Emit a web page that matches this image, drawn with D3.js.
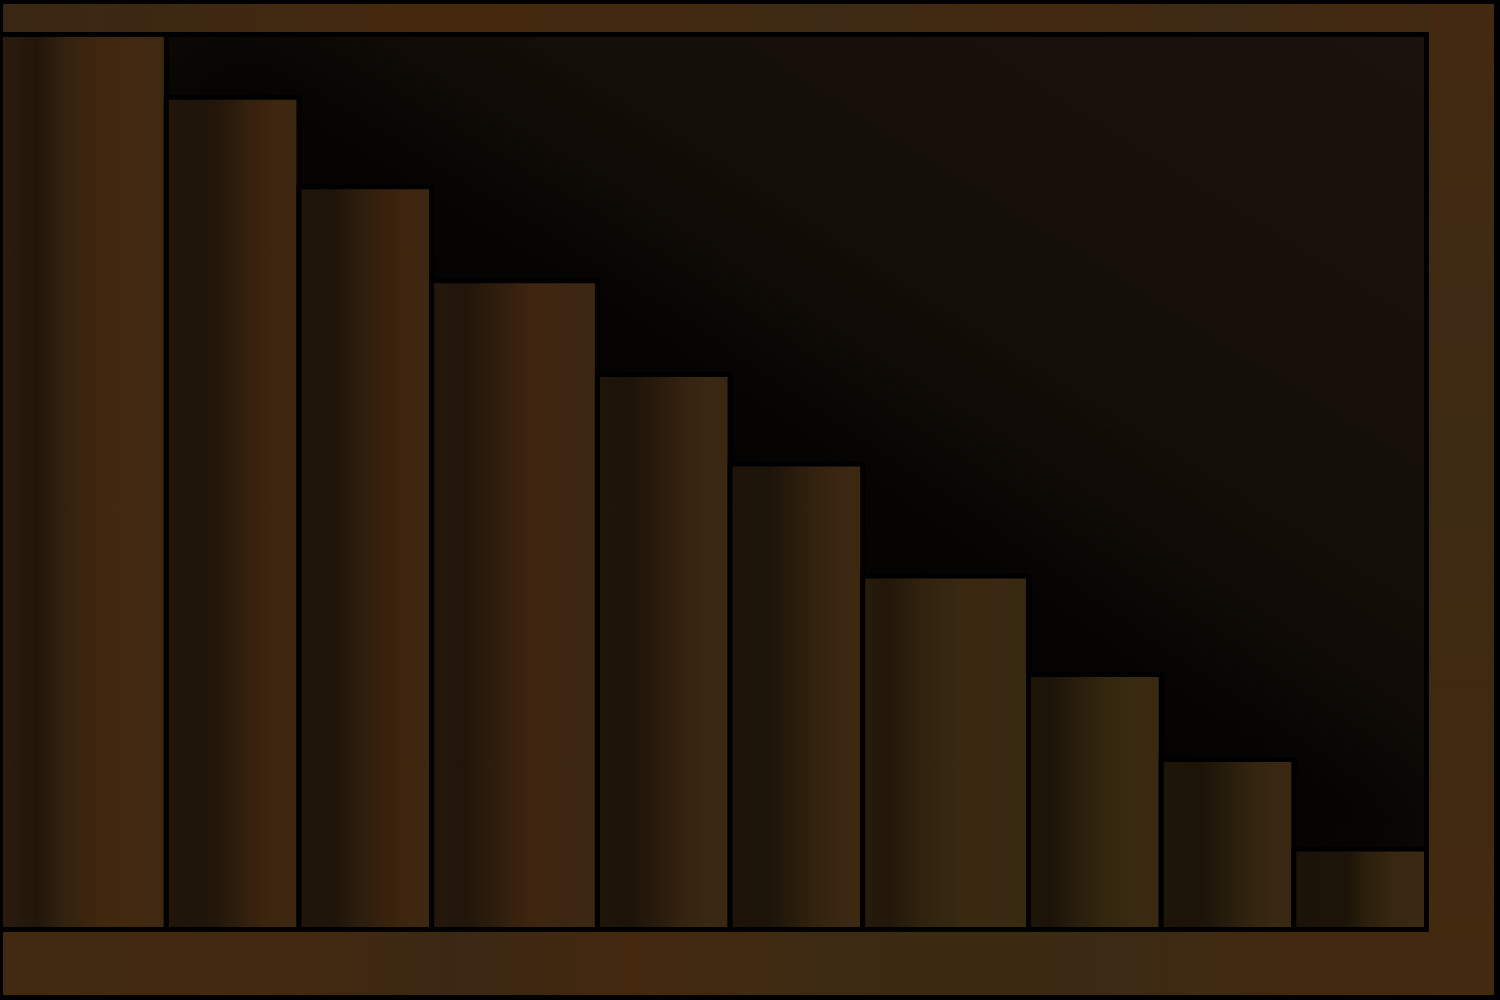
<!DOCTYPE html>
<html>
<head>
<meta charset="utf-8">
<script src="https://cdn.jsdelivr.net/npm/d3@7"></script>
<style>
html,body{margin:0;padding:0;background:#000;}
svg{display:block;}
</style>
</head>
<body>
<svg id="chart" width="1500" height="1000"></svg>
<script>
// ---- data ----
const categories = ["A","B","C","D","E","F","G","H","I","J"];
const values = [100, 93, 83, 72.5, 62, 52, 39.5, 28.5, 19, 9];
const weights = [5, 4, 4, 5, 4, 4, 5, 4, 4, 4];

const svg = d3.select("#chart");
const defs = svg.append("defs");

svg.append("rect").attr("width",1500).attr("height",1000).attr("fill","#000");

function grad(id, stops, vertical){
  const g = defs.append("linearGradient").attr("id",id)
    .attr("x1","0").attr("y1","0").attr("x2", vertical ? "0" : "1").attr("y2", vertical ? "1" : "0");
  stops.forEach(s=>g.append("stop").attr("offset",s[0]).attr("stop-color",s[1]));
}
grad("gTop", [[0,"#3a2713"],[0.12,"#3d2812"],[0.27,"#45290f"],[0.45,"#42290f"],[0.55,"#3d2a14"],[0.7,"#43290f"],[0.82,"#3d2a15"],[0.92,"#43290f"],[1,"#3c2a16"]]);
grad("gBot", [[0,"#41290f"],[0.2,"#42290f"],[0.3,"#3b2814"],[0.42,"#43280e"],[0.55,"#3d2a12"],[0.65,"#392a11"],[0.75,"#3c2a14"],[0.88,"#42280e"],[1,"#43290f"]]);
grad("gRight", [[0,"#43290f"],[0.3,"#3e2a14"],[0.5,"#3d2a12"],[0.75,"#3f2910"],[1,"#45290e"]], true);

const gPanel = defs.append("linearGradient").attr("id","gPanel").attr("x1","0").attr("x2","1").attr("y1","1").attr("y2","0");
[[0,"#0b0805"],[0.5,"#0e0a06"],[0.8,"#17100a"],[1,"#1a120b"]]
  .forEach(s=>gPanel.append("stop").attr("offset",s[0]).attr("stop-color",s[1]));

// frame pieces
svg.append("rect").attr("x",3).attr("y",4).attr("width",1491).attr("height",28).attr("fill","url(#gTop)");
svg.append("rect").attr("x",1429).attr("y",4).attr("width",65).attr("height",991).attr("fill","url(#gRight)");
svg.append("rect").attr("x",3).attr("y",932).attr("width",1491).attr("height",63).attr("fill","url(#gBot)");

// scales
const cum = [0];
weights.forEach((w,i)=>cum.push(cum[i]+w));
const x = d3.scaleLinear().domain([0, cum[cum.length-1]]).range([0.5, 1426.5]);
const y = d3.scaleLinear().domain([0, 100]).range([929.5, 34.5]);

// panel
svg.append("rect").attr("x",x(0)).attr("y",y(100)).attr("width",x(cum[cum.length-1])-x(0)).attr("height",y(0)-y(100))
  .attr("fill","url(#gPanel)").attr("stroke","#000").attr("stroke-width",5);

// soft shadow along the bar tops
defs.append("clipPath").attr("id","panelClip").append("rect")
  .attr("x",x(0)).attr("y",y(100)).attr("width",x(cum[cum.length-1])-x(0)).attr("height",y(0)-y(100));
defs.append("filter").attr("id","blur").attr("x","-30%").attr("y","-30%").attr("width","160%").attr("height","160%")
  .append("feGaussianBlur").attr("stdDeviation",45);
const pts = [];
values.forEach((v,i)=>{ pts.push([x(cum[i+1])+40, y(v)-50]); });
const shadowPath = d3.line().curve(d3.curveBasis)([[x(cum[1]), y(100)], ...pts, [x(cum[cum.length-1])+60, y(0)], [x(0), y(0)]]);
svg.append("g").attr("clip-path","url(#panelClip)")
  .append("path").attr("d", shadowPath).attr("fill","#050302").attr("opacity",0.6).attr("filter","url(#blur)");

// bar gradients (soft vertical streaks)
const barStops = [
  [[0,"#2c1c0e"],[0.1,"#27190c"],[0.22,"#22160a"],[0.4,"#33220f"],[0.6,"#40270e"],[0.78,"#43280f"],[1,"#3c2913"]],
  [[0,"#23160a"],[0.2,"#1e140a"],[0.4,"#24170b"],[0.6,"#33200e"],[0.8,"#40250d"],[1,"#3b2712"]],
  [[0,"#22160a"],[0.25,"#1f1409"],[0.45,"#2c1d0d"],[0.65,"#38220e"],[0.85,"#40260e"],[1,"#3a2712"]],
  [[0,"#25180b"],[0.2,"#211509"],[0.45,"#32200f"],[0.6,"#3f250e"],[0.75,"#3d2611"],[1,"#3a2712"]],
  [[0,"#1f1509"],[0.25,"#1d1409"],[0.45,"#281b0c"],[0.65,"#34230f"],[0.85,"#3b2812"],[1,"#392712"]],
  [[0,"#1e1409"],[0.3,"#1d1409"],[0.5,"#2a1c0c"],[0.7,"#36240f"],[0.9,"#3c2812"],[1,"#3e270f"]],
  [[0,"#281b0c"],[0.15,"#22170a"],[0.35,"#30220e"],[0.6,"#392911"],[0.85,"#3a2912"],[1,"#372911"]],
  [[0,"#1e1609"],[0.15,"#1b1308"],[0.35,"#281d0c"],[0.6,"#35270f"],[0.85,"#3a2a11"],[1,"#382912"]],
  [[0,"#1e1509"],[0.3,"#1c1409"],[0.5,"#271c0c"],[0.7,"#34250f"],[0.9,"#3a2812"],[1,"#392712"]],
  [[0,"#1b1308"],[0.4,"#1c1409"],[0.55,"#2c1f0d"],[0.75,"#382711"],[1,"#3a2812"]]
];
categories.forEach((c,i)=>grad("gBar"+i, barStops[i]));

// bars
svg.append("g").selectAll("rect").data(categories).join("rect")
  .attr("x",(d,i)=>x(cum[i]))
  .attr("y",(d,i)=>y(values[i]))
  .attr("width",(d,i)=>x(cum[i+1])-x(cum[i]))
  .attr("height",(d,i)=>y(0)-y(values[i]))
  .attr("fill",(d,i)=>"url(#gBar"+i+")")
  .attr("stroke","#000").attr("stroke-width",5).attr("stroke-linejoin","round");
</script>
</body>
</html>
